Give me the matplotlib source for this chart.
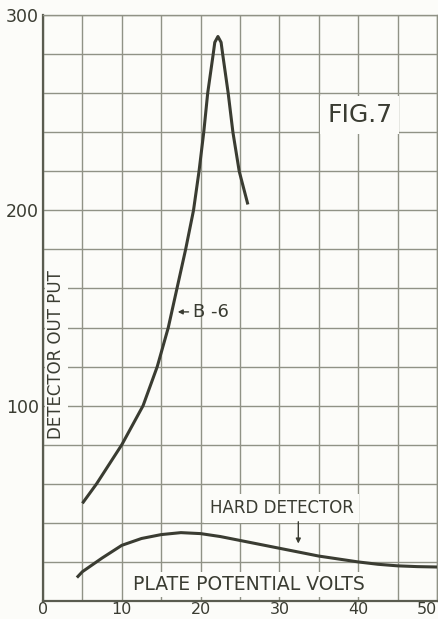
import numpy as np
import matplotlib.pyplot as plt
from matplotlib.ticker import MultipleLocator

# Plate potential (volts) vs detector output
b6_volts = [5, 6.8, 10, 12.7, 14.5, 15.9, 17.0, 18.1, 19.1, 19.8,
            20.4, 20.9, 21.6, 21.8, 22.2, 22.6, 22.8, 23.5, 24.1, 24.9, 26.0]
b6_output = [50, 60, 80, 100, 120, 140, 160, 180, 200, 220,
             240, 260, 280, 286, 289, 286, 280, 260, 240, 220, 203]

hard_volts = [4.3, 5, 7.5, 10, 12.5, 15, 17.5, 20, 22.5, 25, 27.5, 30, 32.5,
              35, 37.5, 40, 42.5, 45, 47.5, 50]
hard_output = [12, 15, 22, 28.5, 32, 34, 35, 34.5, 33, 31, 29, 27, 25,
               23, 21.5, 20, 18.8, 18, 17.6, 17.4]

x_ticks = [0, 10, 20, 30, 40, 50]
y_ticks = [100, 200, 300]

ink = '#3a3c32'
grid_col = '#909286'
paper = '#fcfcf9'

fig = plt.figure(figsize=(4.39, 6.19), dpi=100, facecolor=paper)
ax = fig.add_axes([43 / 439, 18 / 619, 394 / 439, 586 / 619], facecolor=paper)

ax.set_xlim(0, 50)
ax.set_ylim(0, 300)
ax.set_xticks(x_ticks)
ax.set_yticks(y_ticks)
ax.xaxis.set_minor_locator(MultipleLocator(5))
ax.yaxis.set_minor_locator(MultipleLocator(20))
ax.grid(which='both', color=grid_col, lw=1.0)
ax.set_axisbelow(True)
ax.tick_params(which='both', length=0, labelsize=12.5, colors=ink)
ax.tick_params(axis='x', labelsize=11.5, pad=0.5)
ax.tick_params(axis='y', pad=3)

# last x label sits against the right edge
for lbl in ax.get_xticklabels():
    if lbl.get_text() == '50':
        lbl.set_horizontalalignment('right')

for side in ['top', 'right']:
    ax.spines[side].set_color(grid_col)
    ax.spines[side].set_linewidth(1.0)
for side in ['left', 'bottom']:
    ax.spines[side].set_color('#5a5c50')
    ax.spines[side].set_linewidth(1.6)

ax.plot(b6_volts, b6_output, color=ink, lw=2.2, zorder=5, solid_capstyle='butt')
ax.plot(hard_volts, hard_output, color=ink, lw=2.2, zorder=5, solid_capstyle='butt')

box = dict(facecolor=paper, edgecolor='none', pad=2)

ax.text(0.034, 0.42, 'DETECTOR OUT PUT', transform=ax.transAxes, rotation=90,
        ha='center', va='center', fontsize=12, color=ink, bbox=box, zorder=3)
ax.text(26.1, 8.4, 'PLATE POTENTIAL VOLTS', ha='center', va='center',
        fontsize=13.5, color=ink, bbox=box, zorder=3)
ax.text(40.2, 249, 'FIG.7', ha='center', va='center', fontsize=18,
        color=ink, bbox=dict(facecolor=paper, edgecolor='none', pad=5), zorder=3)

ax.text(30.3, 47.5, 'HARD DETECTOR', ha='center', va='center', fontsize=12,
        color=ink, bbox=dict(facecolor=paper, edgecolor='none', pad=4), zorder=3)
ax.annotate('', xy=(32.4, 28), xytext=(32.4, 42),
            arrowprops=dict(arrowstyle='-|>', color=ink, lw=1, mutation_scale=7),
            zorder=4)

ax.annotate('B -6', xy=(17.1, 148), xytext=(19.0, 148), ha='left', va='center',
            fontsize=13, color=ink,
            arrowprops=dict(arrowstyle='-|>', color=ink, lw=1, mutation_scale=7,
                            shrinkA=1, shrinkB=0),
            zorder=4)

fig.savefig('out.png', dpi=100, facecolor=paper)
